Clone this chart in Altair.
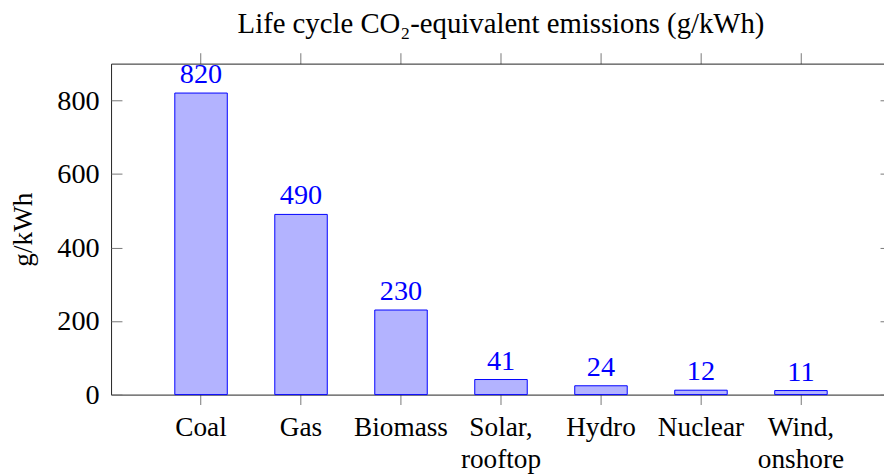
import altair as alt
import pandas as pd

cats = ["Coal", "Gas", "Biomass", "Solar,\nrooftop", "Hydro", "Nuclear", "Wind,\nonshore"]
vals = [820, 490, 230, 41, 24, 12, 11]
yticks = [0, 200, 400, 600, 800]

df = pd.DataFrame({"cat": cats, "val": vals})

FONT = "Liberation Serif"
TICKC = "#777777"
DOMC = "#222222"

xscale = alt.Scale(domain=cats, range=[0, 787], paddingInner=0.475, paddingOuter=0.6375)
yscale = alt.Scale(domain=[0, 900], nice=False, zero=True)

bars = alt.Chart(df).mark_bar(fill="#b3b3ff", stroke="#0000ff", strokeWidth=1).encode(
    x=alt.X("cat:N", sort=cats, scale=xscale,
            axis=alt.Axis(orient="bottom", title=None, labelAngle=0,
                          labelExpr="split(datum.label, '\\n')",
                          labelFont=FONT, labelFontSize=27.5, labelColor="black",
                          labelLineHeight=33, labelPadding=9, labelOverlap=False,
                          ticks=True, tickSize=10, tickColor=TICKC, tickWidth=1,
                          domainColor=DOMC, domainWidth=1, grid=False)),
    y=alt.Y("val:Q", scale=yscale,
            axis=alt.Axis(orient="left", values=yticks, ticks=False,
                          labelFont=FONT, labelFontSize=28.5, labelColor="black",
                          labelPadding=12, grid=False,
                          title="g/kWh", titleFont=FONT, titleFontSize=27.5,
                          titleFontWeight="normal", titleColor="black", titlePadding=20,
                          domainColor=DOMC, domainWidth=1)),
)

labels = alt.Chart(df).mark_text(color="#0000ff", font=FONT, fontSize=28.5,
                                 baseline="alphabetic", dy=-10).encode(
    x=alt.X("cat:N", sort=cats, scale=xscale,
            axis=alt.Axis(orient="top", title=None, labels=False, ticks=True,
                          tickSize=11, tickColor=TICKC, tickWidth=1,
                          domainColor=DOMC, domainWidth=1, grid=False)),
    y=alt.Y("val:Q", scale=yscale,
            axis=alt.Axis(orient="right", values=yticks, title=None, labels=False,
                          domain=False, ticks=True, tickSize=11, tickColor=TICKC,
                          tickWidth=1, grid=False)),
    text=alt.Text("val:Q"),
)

inner = alt.Chart(df).mark_bar(opacity=0).encode(
    x=alt.X("cat:N", sort=cats, scale=xscale, axis=None),
    y=alt.Y("val:Q", scale=yscale,
            axis=alt.Axis(orient="right", offset=-776, values=yticks, title=None,
                          labels=False, domain=False, ticks=True, tickSize=11,
                          tickColor=TICKC, tickWidth=1, grid=False)),
)

chart = alt.layer(bars, labels, inner).resolve_axis(
    x="independent", y="independent"
).properties(
    width=776,
    height=334,
    padding={"left": 104, "top": 54, "right": 4, "bottom": 80},
    autosize=alt.AutoSizeParams(type="none"),
    title=alt.TitleParams(text="Life cycle CO₂-equivalent emissions (g/kWh)",
                          font=FONT, fontSize=29, fontWeight="normal", color="black",
                          anchor="middle", dx=5.5, offset=13),
).configure_view(stroke=None)

chart.save("out.html", embed_options={"renderer": "svg", "actions": False})
